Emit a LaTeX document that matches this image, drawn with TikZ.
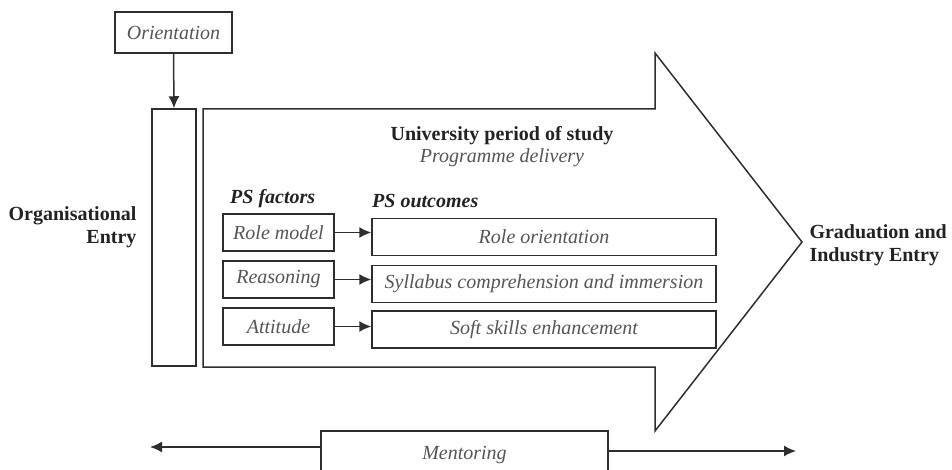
\documentclass[tikz,border=0pt]{standalone}
\usepackage{fontspec}
\setmainfont{Liberation Serif}
\usepackage{xcolor}
\usetikzlibrary{arrows.meta}
\definecolor{inkgray}{HTML}{2E2E2E}
\definecolor{txtgray}{HTML}{555555}
\definecolor{headink}{HTML}{222222}

\begin{document}
\begin{tikzpicture}[x=1pt, y=-1pt,
		txt/.style={font=\fontsize{20}{23}\selectfont},
		box/.style={txt, draw=inkgray, line width=1.5pt, inner sep=0pt, text=txtgray, font=\fontsize{20}{23}\selectfont\itshape},
		psbox/.style={box, minimum width=111pt, minimum height=37pt},
		outbox/.style={box, minimum width=344pt, minimum height=37pt},
		headtxt/.style={text=headink, font=\fontsize{20}{23}\selectfont\bfseries},
		link/.style={draw=inkgray, line width=1.5pt, -{Latex[length=12pt, width=11pt]}}]
		\useasboundingbox (0, 0) rectangle (952, 470);
		\clip (0, 0) rectangle (952, 470);

		\node[box, minimum width=117pt, minimum height=41pt] at (173.5, 32.5) (orient) {Orientation};
		\node[box, minimum width=44pt, minimum height=257pt] at (174, 237.5) (bar) {};
		\draw[link] (orient.south) -- (bar.north);

		\node[headtxt, align=right, anchor=east] at (140, 227) (orgent) {Organisational\\Entry};

		\draw[draw=inkgray, line width=1.5pt] (203, 109) -- (655, 109) -- (655, 53) -- (802, 242)
			-- (655, 431) -- (655, 367) -- (203, 367) -- cycle;

		\node[headtxt, align=left, anchor=west] at (806, 245) (grad) {Graduation and\\Industry Entry};

		\node[headtxt, anchor=base] at (502, 141) (univ) {University period of study};
		\node[txt, text=txtgray, font=\fontsize{20}{23}\selectfont\itshape, anchor=base] at (502, 163) (deliv) {Programme delivery};

		\node[headtxt, font=\fontsize{20}{23}\selectfont\bfseries\itshape, anchor=base west, inner sep=0pt] at (230, 204) (psfac) {PS factors};
		\node[headtxt, font=\fontsize{20}{23}\selectfont\bfseries\itshape, anchor=base west, inner sep=0pt] at (372, 208) (psout) {PS outcomes};

		\node[psbox] at (278.5, 232.5) (rmod) {Role model};
		\node[psbox] at (278.5, 279.5) (reas) {Reasoning};
		\node[psbox] at (278.5, 326.5) (atti) {Attitude};

		\node[outbox] at (544, 237) (rori) {Role orientation};
		\node[outbox] at (544, 284) (sylb) {Syllabus comprehension and immersion};
		\node[outbox] at (544, 329.5) (soft) {Soft skills enhancement};

		\draw[link] (rmod.east) -- (rmod.east -| rori.west);
		\draw[link] (reas.east) -- (reas.east -| sylb.west);
		\draw[link] (atti.east) -- (atti.east -| soft.west);

		\node[box, minimum width=287pt, minimum height=49pt] at (464.5, 455.5) (ment) {Mentoring};
		\coordinate (mleft) at (150, 447);
		\coordinate (mright) at (796, 451);
		\draw[link] (ment.west |- mleft) -- (mleft);
		\draw[link] (ment.east |- mright) -- (mright);
	\end{tikzpicture}
\end{document}
